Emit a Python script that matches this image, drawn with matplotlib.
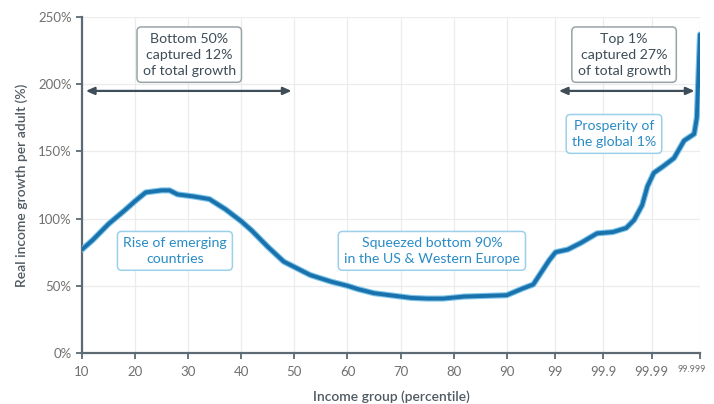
import matplotlib
matplotlib.use("Agg")
import matplotlib.pyplot as plt
import matplotlib.transforms as mtransforms
import numpy as np

plt.rcParams['font.family'] = ['Lato', 'DejaVu Sans']

# Axis ticks: labels and their positions along the (non-uniform) percentile axis
tick_labels = ["10", "20", "30", "40", "50", "60", "70", "80", "90", "99", "99.9", "99.99", "99.999"]
tick_pos = [10, 20, 30, 40, 50, 60, 70, 80, 90, 99.1, 108.2, 117.3, 126.4]

# Curve: position along the axis and real income growth (%)
x_pos = [10, 12, 15, 18, 20, 22, 25, 26.5, 28, 31, 34, 37, 40, 42, 45, 48, 50, 53, 57,
         60, 62, 65, 68, 72, 75, 78, 82, 86, 90, 93, 95, 96.5, 98, 99.2, 101.5, 104,
         107, 110, 112.5, 114, 115.5, 116.5, 117.7, 119.5, 121.5, 123.4, 125.3, 125.8, 126.4]
growth = [77, 84, 96, 106, 113, 119.5, 121, 121, 118, 116.5, 114.5, 107, 98, 91, 79, 68, 64,
          58, 53, 50, 47.5, 44.5, 43, 41, 40.5, 40.5, 42, 42.5, 43, 48, 51, 60, 69, 75, 77,
          82, 89, 90, 93, 99, 110, 124, 134, 139, 145, 158, 163, 175, 237]

y_ticks = [0, 50, 100, 150, 200, 250]
y_labels = ["0%", "50%", "100%", "150%", "200%", "250%"]

fig = plt.figure(figsize=(7.14, 4.04), dpi=100)
ax = fig.add_axes([82/714, 1-353/404, (700-82)/714, (353-17)/404])

line_col = "#1a72ad"
ax.plot(x_pos, growth, color="#7cc3ea", lw=4.4, solid_capstyle="round", zorder=3)
ax.plot(x_pos, growth, color=line_col, lw=2.8, solid_capstyle="round", zorder=4)

ax.set_xlim(tick_pos[0], tick_pos[-1])
ax.set_ylim(0, 250)
ax.set_xticks(tick_pos)
ax.set_xticklabels(tick_labels)
ax.set_yticks(y_ticks)
ax.set_yticklabels(y_labels)

ax.grid(True, color="#ececec", lw=0.9)
ax.set_axisbelow(True)
for s in ["top", "right"]:
    ax.spines[s].set_visible(False)
spine_col = "#5d6a73"
for s in ["left", "bottom"]:
    ax.spines[s].set_color(spine_col)
    ax.spines[s].set_linewidth(1.6)
ax.tick_params(axis="both", colors=spine_col, labelcolor="#707070", labelsize=9.5,
               length=4, width=1.3, direction="out")
ax.tick_params(axis="x", pad=5)

last = ax.get_xticklabels()[-1]
last.set_fontsize(6.5)
last.set_transform(last.get_transform() + mtransforms.ScaledTranslation(-8/100, 0, fig.dpi_scale_trans))

ax.set_xlabel("Income group (percentile)", fontsize=10, color="#505a62", fontweight="semibold", labelpad=9)
ax.set_ylabel("Real income growth per adult (%)", fontsize=10, color="#505a62", fontweight="semibold", labelpad=7)

gray_txt = "#3e4d58"
blue_txt = "#2a8cc6"
box_gray = dict(boxstyle="round,pad=0.4,rounding_size=0.3", fc="white", ec="#9aa3a8", lw=1.1)
box_blue = dict(boxstyle="round,pad=0.4,rounding_size=0.3", fc="white", ec="#9bd0ea", lw=1.1)

fs = 10.2
ax.text(30.2, 222, "Bottom 50%\ncaptured 12%\nof total growth", ha="center", va="center",
        fontsize=fs, color=gray_txt, linespacing=1.4, bbox=box_gray, zorder=5)
ax.text(112.1, 222, "Top 1%\ncaptured 27%\nof total growth", ha="center", va="center",
        fontsize=fs, color=gray_txt, linespacing=1.4, bbox=box_gray, zorder=5)

arrow_kw = dict(arrowstyle="<|-|>,head_length=0.5,head_width=0.22", color="#3e4d58", lw=1.6)
ax.annotate("", xy=(10.2, 195), xytext=(50, 195), arrowprops=arrow_kw)
ax.annotate("", xy=(99.3, 195), xytext=(125.9, 195), arrowprops=arrow_kw)

ax.text(110.2, 163, "Prosperity of\nthe global 1%", ha="center", va="center",
        fontsize=fs, color=blue_txt, linespacing=1.35, bbox=box_blue, zorder=5)
ax.text(27.5, 76, "Rise of emerging\ncountries", ha="center", va="center",
        fontsize=fs, color=blue_txt, linespacing=1.35, bbox=box_blue, zorder=5)
ax.text(75.9, 76, "Squeezed bottom 90%\nin the US & Western Europe", ha="center", va="center",
        fontsize=fs, color=blue_txt, linespacing=1.35, bbox=box_blue, zorder=5)

fig.savefig("out.png", dpi=100)
